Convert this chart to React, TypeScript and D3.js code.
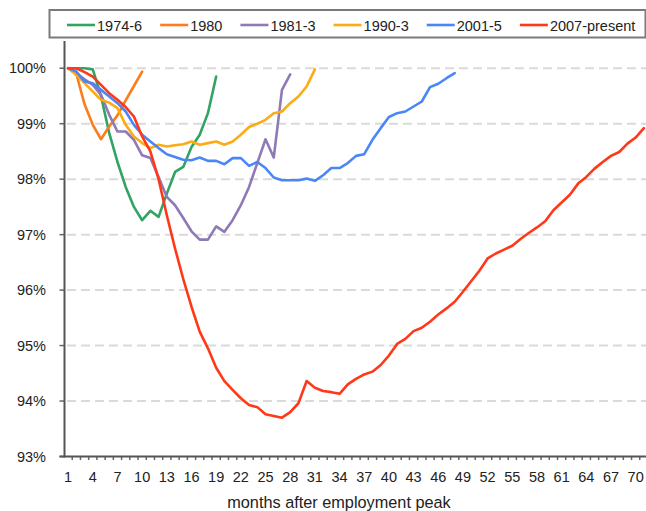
import { useRef, useEffect } from 'react'
import * as d3 from 'd3'

// months after peak (category axis)
const months = d3.range(1, 72)
const tickMonths = months.filter(m => (m - 1) % 3 === 0)
const yTicks = [93, 94, 95, 96, 97, 98, 99, 100]

const seriesNames = ["1974-6", "1980", "1981-3", "1990-3", "2001-5", "2007-present"]
const seriesColors = ["#31a463", "#fb7d1c", "#8f7ab6", "#fdab14", "#4a87f6", "#fe3818"]

const s1974 = [100, 100, 100, 99.98, 99.5, 98.83, 98.31, 97.86, 97.5, 97.26, 97.43, 97.32, 97.74, 98.13, 98.22, 98.58, 98.8, 99.19, 99.85]
const s1980 = [100, 99.9, 99.35, 98.98, 98.72, 98.95, 99.15, 99.42, 99.68, 99.94]
const s1981 = [100, 99.91, 99.8, 99.7, 99.52, 99.16, 98.86, 98.86, 98.71, 98.43, 98.38, 98.04, 97.68, 97.53, 97.3, 97.06, 96.91, 96.91, 97.15, 97.05, 97.26, 97.53, 97.86, 98.29, 98.72, 98.39, 99.61, 99.89]
const s1990 = [100, 99.88, 99.73, 99.58, 99.43, 99.38, 99.28, 98.98, 98.77, 98.65, 98.56, 98.62, 98.59, 98.61, 98.63, 98.68, 98.62, 98.65, 98.68, 98.62, 98.68, 98.8, 98.94, 99.0, 99.07, 99.19, 99.22, 99.37, 99.49, 99.67, 99.98]
const s2001 = [100, 99.94, 99.76, 99.73, 99.61, 99.49, 99.37, 99.22, 98.98, 98.8, 98.68, 98.56, 98.45, 98.4, 98.35, 98.34, 98.39, 98.33, 98.33, 98.27, 98.38, 98.38, 98.24, 98.31, 98.2, 98.03, 97.98, 97.98, 97.98, 98.01, 97.97, 98.07, 98.2, 98.2, 98.29, 98.42, 98.45, 98.71, 98.92, 99.12, 99.19, 99.22, 99.31, 99.4, 99.66, 99.72, 99.82, 99.91]
const s2007 = [100, 100, 99.93, 99.85, 99.7, 99.55, 99.43, 99.3, 99.13, 98.77, 98.5, 98.0, 97.35, 96.75, 96.2, 95.7, 95.25, 94.95, 94.6, 94.36, 94.2, 94.05, 93.93, 93.89, 93.76, 93.73, 93.7, 93.8, 93.96, 94.36, 94.24, 94.18, 94.16, 94.13, 94.3, 94.4, 94.48, 94.53, 94.65, 94.82, 95.03, 95.12, 95.26, 95.32, 95.43, 95.56, 95.67, 95.79, 95.97, 96.16, 96.35, 96.57, 96.66, 96.73, 96.8, 96.92, 97.03, 97.13, 97.24, 97.44, 97.58, 97.72, 97.92, 98.04, 98.19, 98.31, 98.42, 98.49, 98.64, 98.75, 98.92]

const seriesValues = [s1974, s1980, s1981, s1990, s2001, s2007]

export default function App() {
  const svgRef = useRef<SVGSVGElement>(null)
  const width = 646
  const height = 511

  useEffect(() => {
    if (!svgRef.current) return
    const svg = d3.select(svgRef.current)
    svg.selectAll("*").remove()

    const font = "'Liberation Sans', Arial, sans-serif"
    const x = d3.scaleBand<number>().domain(months).range([64, 648])
    const y = d3.scaleLinear().domain([93, 100.5]).range([456.5, 40.5])
    const cx = (m: number) => (x(m) || 0) + x.bandwidth() / 2

    // gridlines
    svg.append("g")
      .selectAll("line")
      .data(yTicks.filter(t => t > 93))
      .enter()
      .append("line")
      .attr("x1", 67)
      .attr("x2", width)
      .attr("y1", d => y(d))
      .attr("y2", d => y(d))
      .attr("stroke", "#dadada")
      .attr("stroke-width", 2)
      .attr("stroke-dasharray", "9,5")

    // y ticks + labels
    svg.append("g")
      .selectAll("line")
      .data(yTicks)
      .enter()
      .append("line")
      .attr("x1", 59.5)
      .attr("x2", 64)
      .attr("y1", d => y(d))
      .attr("y2", d => y(d))
      .attr("stroke", "#666")
      .attr("stroke-width", 1.5)

    svg.append("g")
      .selectAll("text")
      .data(yTicks)
      .enter()
      .append("text")
      .attr("x", 46)
      .attr("y", d => y(d))
      .attr("dy", "0.35em")
      .attr("text-anchor", "end")
      .attr("font-family", font)
      .attr("font-size", 14.5)
      .attr("fill", "#222")
      .text(d => `${d}%`)

    // x ticks at category boundaries
    const bounds = months.map(m => x(m) || 0).concat([x.range()[1]])
    svg.append("g")
      .selectAll("line")
      .data(bounds.slice(1))
      .enter()
      .append("line")
      .attr("x1", d => d)
      .attr("x2", d => d)
      .attr("y1", 456)
      .attr("y2", 460)
      .attr("stroke", "#666")
      .attr("stroke-width", 1.5)

    svg.append("g")
      .selectAll("text")
      .data(tickMonths)
      .enter()
      .append("text")
      .attr("x", d => cx(d))
      .attr("y", 482)
      .attr("text-anchor", "middle")
      .attr("font-family", font)
      .attr("font-size", 14.5)
      .attr("fill", "#222")
      .text(d => d)

    // axes
    svg.append("line")
      .attr("x1", 64.5).attr("x2", 64.5)
      .attr("y1", 41).attr("y2", 457.5)
      .attr("stroke", "#555").attr("stroke-width", 2)
    svg.append("line")
      .attr("x1", 59.5).attr("x2", width)
      .attr("y1", 456.5).attr("y2", 456.5)
      .attr("stroke", "#555").attr("stroke-width", 2)

    svg.append("text")
      .attr("x", 339)
      .attr("y", 507.5)
      .attr("text-anchor", "middle")
      .attr("font-family", font)
      .attr("font-size", 16.3)
      .attr("fill", "#222")
      .text("months after employment peak")

    // lines
    const line = d3.line<number>()
      .x((_, i) => cx(months[i]))
      .y(d => y(d))
    svg.append("g")
      .selectAll("path")
      .data(seriesValues)
      .enter()
      .append("path")
      .attr("d", d => line(d))
      .attr("fill", "none")
      .attr("stroke", (_, i) => seriesColors[i])
      .attr("stroke-width", 2.6)
      .attr("stroke-linejoin", "round")
      .attr("stroke-linecap", "round")

    // legend
    const lg = svg.append("g")
    lg.append("rect")
      .attr("x", 49.5).attr("y", 10)
      .attr("width", 596).attr("height", 27.5)
      .attr("fill", "#fff")
      .attr("stroke", "#7a7a7a")
      .attr("stroke-width", 2)
    let lx = 67
    seriesNames.forEach((name, i) => {
      lg.append("line")
        .attr("x1", lx).attr("x2", lx + 28)
        .attr("y1", 25).attr("y2", 25)
        .attr("stroke", seriesColors[i])
        .attr("stroke-width", 2.6)
      const t = lg.append("text")
        .attr("x", lx + 30)
        .attr("y", 30.5)
        .attr("font-family", font)
        .attr("font-size", 14.5)
        .attr("fill", "#222")
        .text(name)
      const w = (t.node() as SVGTextElement).getComputedTextLength()
      lx += 30 + w + 18
    })
  }, [])

  return (
    <svg
      ref={svgRef}
      width={width}
      height={height}
      style={{ position: 'absolute', left: 0, top: 0 }}
    />
  )
}
